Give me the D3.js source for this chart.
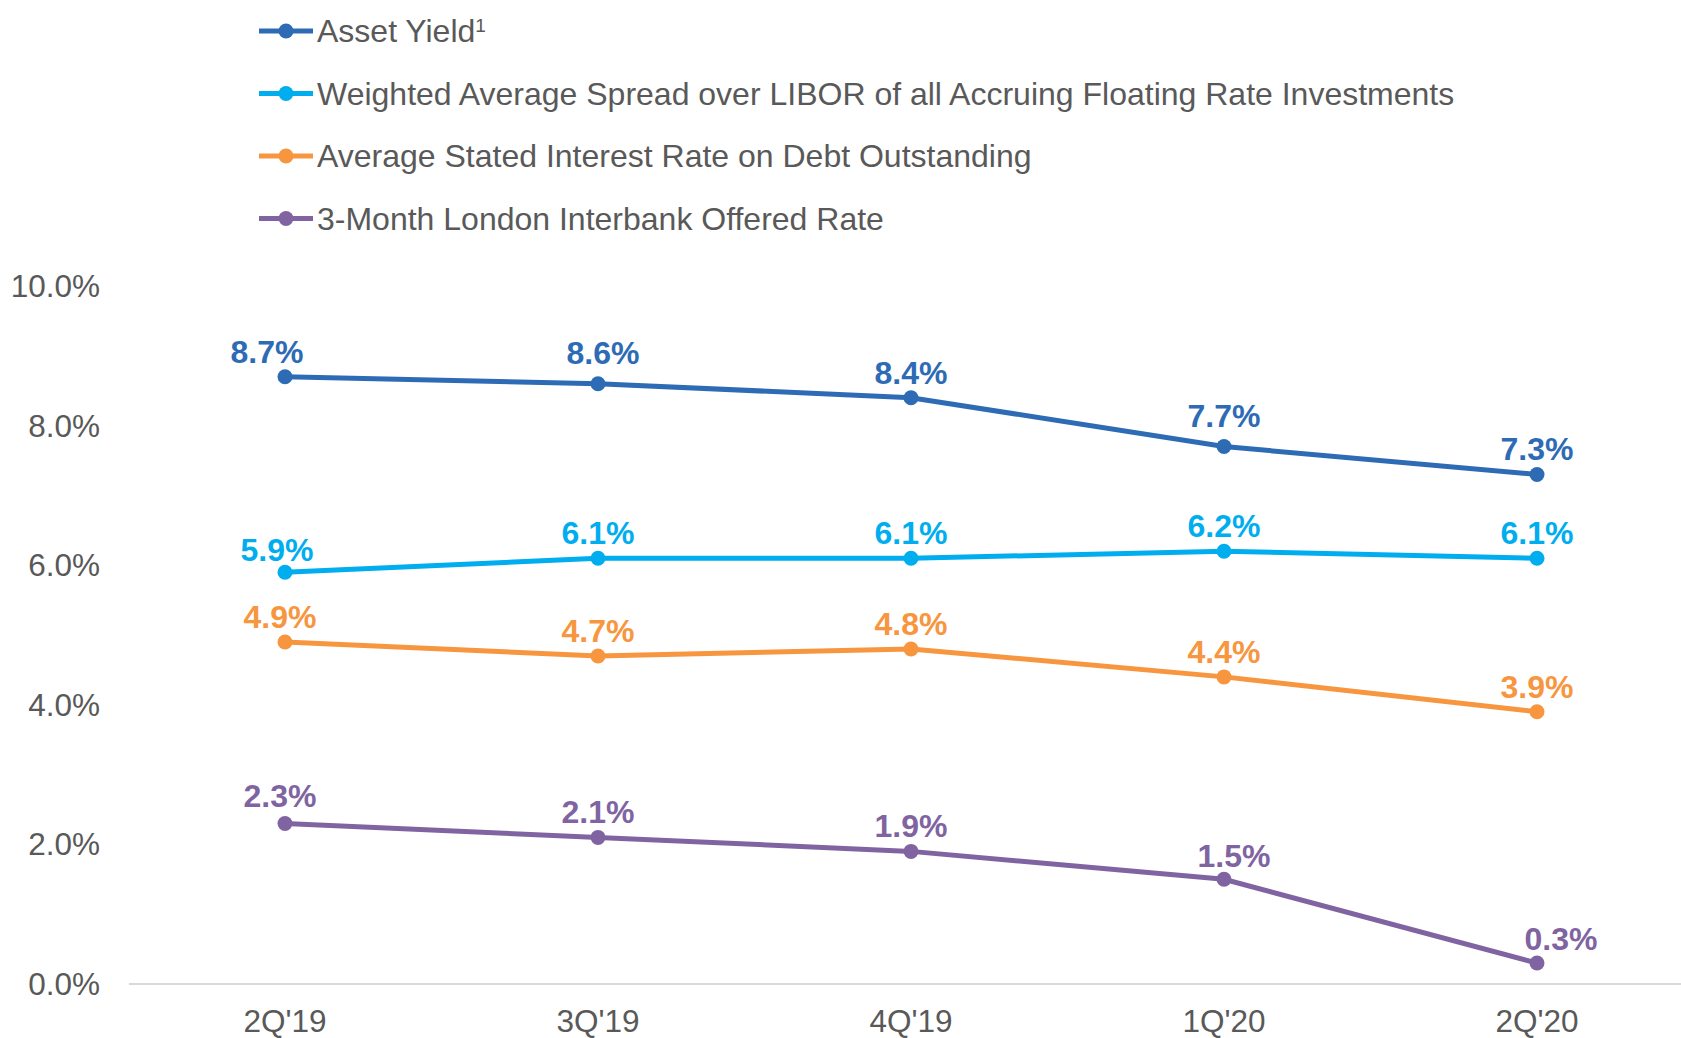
<!DOCTYPE html>
<html>
<head>
<meta charset="utf-8">
<script src="https://cdn.jsdelivr.net/npm/d3@7"></script>
<style>
  body { margin: 0; background: #fff; }
  svg { display: block; font-family: "Liberation Sans", Arial, sans-serif; }
</style>
</head>
<body>
<svg id="chart" width="1681" height="1038"></svg>
<script>
// quarters on the x axis
var quarters = ["2Q'19", "3Q'19", "4Q'19", "1Q'20", "2Q'20"];

// series values, in percent
var assetYield = [8.7, 8.6, 8.4, 7.7, 7.3];
var spreadOverLibor = [5.9, 6.1, 6.1, 6.2, 6.1];
var debtRate = [4.9, 4.7, 4.8, 4.4, 3.9];
var libor3m = [2.3, 2.1, 1.9, 1.5, 0.3];

var seriesNames = [
  "Asset Yield",
  "Weighted Average Spread over LIBOR of all Accruing Floating Rate Investments",
  "Average Stated Interest Rate on Debt Outstanding",
  "3-Month London Interbank Offered Rate"
];
var seriesColors = ["#2E6BB5", "#00AEEF", "#F7963F", "#8064A2"];

var yTicks = [0, 2, 4, 6, 8, 10];

var series = [assetYield, spreadOverLibor, debtRate, libor3m].map(function (vals, i) {
  return { name: seriesNames[i], color: seriesColors[i], values: vals };
});

var svg = d3.select("#chart");

var x = d3.scalePoint()
    .domain(quarters)
    .range([285, 1537]);

var y = d3.scaleLinear()
    .domain([0, 10])
    .range([984, 286]);

// baseline
svg.append("line")
    .attr("x1", 129).attr("x2", 1681)
    .attr("y1", y(0)).attr("y2", y(0))
    .attr("stroke", "#D9D9D9")
    .attr("stroke-width", 2);

// y axis labels
svg.append("g").selectAll("text")
  .data(yTicks)
  .enter().append("text")
    .attr("x", 100)
    .attr("y", function (d) { return y(d); })
    .attr("dy", "0.35em")
    .attr("text-anchor", "end")
    .attr("font-size", 31.5)
    .attr("fill", "#595959")
    .text(function (d) { return d.toFixed(1) + "%"; });

// x axis labels
svg.append("g").selectAll("text")
  .data(quarters)
  .enter().append("text")
    .attr("x", function (d) { return x(d); })
    .attr("y", 1032)
    .attr("text-anchor", "middle")
    .attr("font-size", 31.5)
    .attr("fill", "#595959")
    .text(function (d) { return d; });

var line = d3.line()
    .x(function (d, i) { return x(quarters[i]); })
    .y(function (d) { return y(d); });

// a few labels are nudged off their point, like in the original
function nudge(si, i) {
  if (si === 0 && i === 0) return [-18, 0];
  if (si === 0 && i === 1) return [5, -6];
  if (si === 0 && i === 3) return [0, -6];
  if (si === 1 && i === 0) return [-8, 3];
  if (si === 2 && i === 0) return [-5, 0];
  if (si === 3 && i === 0) return [-5, -2];
  if (si === 3 && i === 3) return [10, 2];
  if (si === 3 && i === 4) return [24, 1];
  return [0, 0];
}

var g = svg.selectAll("g.series")
  .data(series)
  .enter().append("g")
    .attr("class", "series");

g.append("path")
    .attr("d", function (d) { return line(d.values); })
    .attr("fill", "none")
    .attr("stroke", function (d) { return d.color; })
    .attr("stroke-width", 5);

g.each(function (s, si) {
  var sel = d3.select(this);
  sel.selectAll("circle")
    .data(s.values)
    .enter().append("circle")
      .attr("cx", function (d, i) { return x(quarters[i]); })
      .attr("cy", function (d) { return y(d); })
      .attr("r", 7.5)
      .attr("fill", s.color);

  sel.selectAll("text")
    .data(s.values)
    .enter().append("text")
      .attr("x", function (d, i) { return x(quarters[i]) + nudge(si, i)[0]; })
      .attr("y", function (d, i) { return y(d) - 14 + nudge(si, i)[1]; })
      .attr("text-anchor", "middle")
      .attr("font-size", 32)
      .attr("font-weight", "bold")
      .attr("fill", s.color)
      .text(function (d) { return d.toFixed(1) + "%"; });
});

// legend
var legend = svg.append("g").selectAll("g")
  .data(series)
  .enter().append("g")
    .attr("transform", function (d, i) { return "translate(0," + (31 + i * 62.5) + ")"; });

legend.append("line")
    .attr("x1", 259).attr("x2", 313)
    .attr("stroke", function (d) { return d.color; })
    .attr("stroke-width", 5);

legend.append("circle")
    .attr("cx", 286)
    .attr("r", 7.5)
    .attr("fill", function (d) { return d.color; });

var lt = legend.append("text")
    .attr("x", 317)
    .attr("dy", "0.35em")
    .attr("font-size", 32)
    .attr("fill", "#595959")
    .text(function (d) { return d.name; });

lt.filter(function (d, i) { return i === 0; })
  .append("tspan")
    .attr("dy", "-0.55em")
    .attr("font-size", 19)
    .text("1");
</script>
</body>
</html>
